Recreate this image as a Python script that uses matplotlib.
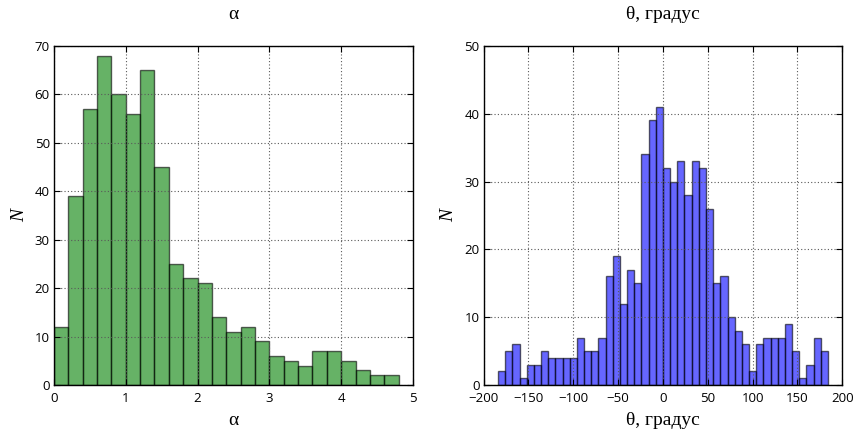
import numpy as np
import matplotlib.pyplot as plt

# alpha histogram: bins 0..4.8, width 0.2
alpha_edges = np.linspace(0, 4.8, 25)
alpha_counts = [12, 39, 57, 68, 60, 56, 65, 45, 25, 22, 21, 14,
                11, 12, 9, 6, 5, 4, 7, 7, 5, 3, 2, 2]

# theta histogram: bins -184..184, width 8
theta_edges = np.linspace(-184, 184, 47)
theta_counts = [2, 5, 6, 1, 3, 3, 5, 4, 4, 4, 4, 7, 5, 5, 7,
                16, 19, 12, 17, 15, 34, 39, 41, 32, 30, 33, 28, 33, 32, 26,
                15, 16, 10, 8, 6, 2, 6, 7, 7, 7, 9, 5, 1, 3, 7, 5]

plt.rcParams['font.family'] = ['Open Sans', 'DejaVu Sans']
serif = 'Liberation Serif'

fig = plt.figure(figsize=(8.56, 4.37), dpi=100)
ax1 = fig.add_axes([0.063, 0.119, 0.4195, 0.776])
ax2 = fig.add_axes([0.565, 0.119, 0.419, 0.776])

ax1.hist(alpha_edges[:-1], bins=alpha_edges, weights=alpha_counts,
         color='g', alpha=0.6, edgecolor='k', linewidth=1)
ax2.hist(theta_edges[:-1], bins=theta_edges, weights=theta_counts,
         color='b', alpha=0.6, edgecolor='k', linewidth=1)

ax1.set_xlim(0, 5)
ax1.set_ylim(0, 70)
ax2.set_xlim(-200, 200)
ax2.set_ylim(0, 50)
ax2.set_xticks(range(-200, 201, 50))
ax2.set_yticks(range(0, 51, 10))

for ax, lab in [(ax1, 'α'), (ax2, 'θ, градус')]:
    ax.set_title(lab, fontsize=14, family=serif, pad=19)
    ax.set_xlabel(lab, fontsize=14, family=serif, labelpad=5)
    ax.set_ylabel('N', fontsize=14, family=serif, style='italic', labelpad=5)
    ax.grid(True, color='0.35', linestyle=(0, (1, 2)), linewidth=0.8)
    ax.tick_params(direction='in', top=True, right=True, length=4,
                   labelsize=9.5)
    ax.tick_params(axis='x', pad=5)
    ax.tick_params(axis='y', pad=3)
    for s in ax.spines.values():
        s.set_linewidth(1)

fig.savefig('out.png', dpi=100)
